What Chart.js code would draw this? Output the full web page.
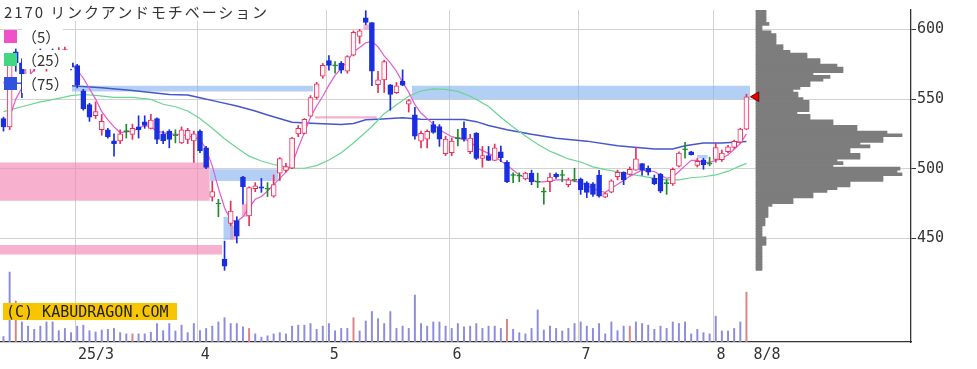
<!DOCTYPE html>
<html>
<head>
<meta charset="utf-8">
<script src="https://cdn.jsdelivr.net/npm/chart.js@4.4.1/dist/chart.umd.min.js"></script>
<style>
body { margin: 0; background: #fff; }
#wrap { position: relative; width: 977px; height: 369px; overflow: hidden; }
#title { position: absolute; left: 0; top: 0; width: 267px; height: 21px; background: #fff;
  font: 15px "Noto Sans CJK JP"; letter-spacing: 1.9px; color: #333; line-height: 24px; padding-left: 4px; box-sizing: border-box; white-space: nowrap; }
.sq { position: absolute; left: 4px; width: 13px; height: 13px; }
.lg { position: absolute; left: 22px; height: 19px; padding: 0 3px 0 0; background: #fff;
  font: 15px "Noto Sans CJK JP"; color: #333; line-height: 19px; }
#copy { position: absolute; left: 3px; top: 303px; width: 174px; height: 17px; background: #f7c600;
  font: 15px "DejaVu Sans Mono"; color: #222; line-height: 18px; padding-left: 3px; box-sizing: border-box; white-space: nowrap; }
</style>
</head>
<body>
<div id="wrap">
  <canvas id="chart" width="977" height="369"></canvas>
  <div id="title">2170 リンクアンドモチベーション</div>
  <div class="sq" style="top:30px;background:#f050c8"></div><div class="lg" style="top:27px">（5）</div>
  <div class="sq" style="top:53px;background:#40d880"></div><div class="lg" style="top:50px">（25）</div>
  <div class="sq" style="top:77px;background:#2f52e0"></div><div class="lg" style="top:74px">（75）</div>
  <div id="copy">(C) KABUDRAGON.COM</div>
</div>
<script>
// 日足 2025/2/12 - 8/8 (index 0 = 2/12)
const opens  = [536,530,584,576,567,574,582,574,583,577,579,576,574,556,546,538,528,528,520,520,
  527,524.7,530,533.7,529,536,525,527,524,518.5,521,520,527,515,479.5,475,435,460.6,462.7,494,
  466,485.6,487,485.6,480.2,496.8,498.8,500.3,525,525.4,537.7,551.2,566.5,577.7,574.2,575.6,570,581.5,595,608.4,
  604.9,560.3,563.8,560.3,554.7,563,546.3,538.7,519.8,521.2,531.7,530.3,510.8,511.5,522,529,512.2,525.4,507.3,509.4,
  506,512.2,504.5,495.5,495,492.6,496.8,490.6,483.5,490.6,496,495.5,488.5,492,492.6,489.9,489.2,495.4,479.6,483.1,
  494.2,497.3,495.9,498.9,503.6,500.3,493.2,495.9,489.6,489,501.9,514,512.2,502.4,506.4,503.6,506.6,506.4,512.2,515.2,
  519.1,528.4];
const highs  = [537,582,586,579,582,584,586,585,586,587,587.3,577.4,575,557,547,548,539,529,525,528,
  532,532,538,538,539,536.5,527,528,528,530,529,527,528,516,491,478,448,476.7,465.5,494.5,
  487,490,493,490,495.5,508,503.8,522.5,531,536,552.5,562,575.6,581.2,577,577,581.2,599,600,613.5,
  605,570,578,560.5,562,571,549.8,544,527,528,534,531.7,523.3,522,528.2,533.7,524.7,526,516,516,
  517.7,516.3,505.9,497,497,497.5,499,496.8,486.4,496.8,497,499,493.3,500.3,493.3,490.7,490,498.9,482.9,492,
  499,497.8,501.2,515.2,503.6,502,495.4,496.6,492,500.5,512.2,519,512.5,507.3,507.5,508.2,518.2,513.3,516.8,520.5,
  529.1,553.5];
const lows   = [527,528,570,551,563,570,572,570,574,575,579,571,558,542,534,536,524,522,509,518,
  522,521,522,529,528.5,518,518,515,518.5,518,518,504.5,511.5,500,476.7,465.5,427,459,446.6,474.5,
  459,483.5,483,480,479.5,491.5,497.5,500,523,525,537.7,550,565,570.7,568.6,568.6,568.6,581,590,603.5,
  559.6,554.7,554.7,542,554,559.6,540.7,521.2,515,515,525.4,516,509.4,509.4,516.3,519.8,510.8,506.6,501,505.9,
  505.9,505,490,490,490.6,491.9,488.5,486.4,474.5,483.5,493,490.6,486.9,490.6,481.5,479.2,480,479.6,479.2,482.7,
  492,488.5,495.4,498.9,495.4,495.4,488.5,482.7,481.5,488,501.2,507.5,509.8,501.2,499.6,502,504.7,505.2,511.3,514.5,
  518.2,528];
const closes = [530,575,576,568,578,581,575,582,577,584,585.5,573,560,543,537,541,534,523,518,525,
  527,529,528,531,535,521,520,521,524,528,527.5,525,513,501,483.5,475,430,469.6,451.5,487,
  486.5,487.7,486,485.6,488.5,507.2,501.5,522,529,535.5,551,561,574.2,574.2,574.2,570.7,580.5,598,599,605,
  570,563.8,577,553.3,559.6,560,549,523.3,525.4,526.8,526,521.2,521.2,519.8,522,521.2,522,507.3,509.4,506,
  515,508,490.6,495.5,495,496.8,490.6,490.6,483.5,494,494,495.5,492,492,485,483,481.5,480.3,482.2,491.2,
  497.3,492,499.6,507,498.9,497.5,489,483.8,489.6,499.6,511.3,514,510,505.2,502.9,503.6,515.2,511.3,515.7,519.6,
  528.4,551.7];
// 出来高 (千株)
const volumes = [113,1440,847,413,327,260,327,413,413,233,280,193,327,347,233,207,247,260,280,193,
  167,167,167,167,200,380,233,380,227,347,193,380,233,280,327,413,500,380,380,313,
  280,167,100,127,167,193,167,327,347,347,380,260,327,380,233,280,280,500,227,433,
  627,480,380,627,280,327,280,967,380,327,413,413,327,280,380,313,327,380,280,327,
  327,280,467,260,193,167,280,660,247,327,280,227,280,380,413,327,280,380,167,413,
  233,327,327,413,380,347,260,327,280,413,380,413,167,260,193,167,533,227,227,280,
  413,1027];
const redVolumeDays = [2,21,40,57,82,102,121];
// 移動平均 [日, 値]
const ma5 = [[1,537],[2,550],[4,566],[6,576],[8,579],[10,580],[12,571],[13,565],[15,550],[16,541],[17,535],[18,530],
  [19,526],[21,527],[22,529],[23,531],[24,530],[25,527],[27,525],[29,524.5],[31,522.5],[32,521],[33,514],[34,502],
  [35,486],[36,472],[37,463],[38,462],[39,465.5],[40,472],[41,478],[42,480],[43,484],[45,493],[46,497.5],[47,503],
  [48,515],[49,526],[50,537],[51,545],[52,552],[53,560],[54,567],[55,572],[56,577],[57,584],[58,587],[59,590.5],
  [60,591.5],[61,587.5],[62,581],[63,576],[64,570],[65,562],[66,555],[67,546],[68,540],[69,536],[70,532],[71,528],
  [73,523],[74,522],[76,520],[77,515],[79,511],[80,508.5],[82,502.5],[84,495.5],[85,493.5],[87,490.5],[88,490.5],
  [90,492],[92,492],[94,490],[96,486],[97,484],[98,483],[99,486],[101,491.5],[102,494.5],[104,499],[106,498],
  [107,495.5],[108,493],[109,494],[110,498],[111,502],[112,506],[113,506],[114,504.5],[115,504.5],[117,507.3],
  [118,510],[119,514],[120,518],[121,525]];
const ma25 = [[0,541],[3,544.5],[6,548],[9,550.5],[11,552.5],[13,553.3],[15,552.6],[18,551.2],[21,551.2],[24,549.8],
  [26,546.3],[28,544.5],[30,541.5],[32,536],[34,529],[36,521.5],[38,515],[40,509],[42,505.5],[44,503],[47,500.3],
  [49,500.3],[51,502.2],[53,506.3],[55,511.5],[57,518.5],[60,530.3],[62,539.5],[64,546],[66,552],[68,555.8],
  [70,557.3],[72,557],[74,555.5],[76,552],[77,549.8],[79,544.7],[81,537],[83,530],[85,523.5],[87,517.5],[89,512.5],
  [90,510.8],[92,507],[94,504.8],[96,501.3],[98,499.3],[100,497.8],[102,496],[104,494.6],[106,493],[108,491.9],
  [110,492],[112,493.5],[114,494.2],[116,495.5],[118,498.2],[120,502],[121,503.8]];
const ma75 = [[0,562],[11,559.6],[16,558.2],[21,556.1],[27,553.3],[30,553],[32,551],[35,548],[38,545],[41,541.5],
  [43,538.6],[47,533.3],[51,532.4],[55,531.7],[57,532.5],[59,535.2],[61,535.6],[65,536.6],[68,535.5],[75,535.3],
  [77,533.8],[79,531],[82,528],[86,524.7],[90,521.9],[95,519.8],[100,516.5],[106,514.2],[109,514.2],[111,516.5],
  [114,518.4],[117,518.4],[121,519.6]];
// 窓 [開始日, 終了日, 下限, 上限, 種類]
const gaps = [[-0.6,33.6,477,504.5,'up'],[-0.6,35.6,438.3,445.2,'up'],[33.6,44.7,491.2,499.6,'down'],
  [35.8,37.4,449,465.5,'down'],[36.9,37.9,449,459,'up'],[38.8,39.8,465.5,474.5,'up'],[50.7,60.8,536,537.7,'up'],
  [58.6,59.7,600,603.5,'up'],[10.7,50.4,555.4,559.6,'down'],[66.5,121.6,549.8,559.6,'down'],[112.9,114.7,507.3,509.8,'down']];
// 価格帯別出来高 428円から2円刻み
const profileLow = 428, profileStep = 2;
const profileVol = [600,600,600,600,600,600,600,600,600,1000,1000,1000,600,600,600,600,900,900,900,1200,
  1200,1200,1200,1600,3700,3700,5700,5700,7100,8100,9400,9400,12700,12700,14600,14100,14400,7700,8700,8100,
  10400,10400,9400,9400,11400,10400,12700,12700,14600,13100,10100,10100,7700,7700,5400,5400,4100,5300,5300,5300,
  5300,4700,4200,4200,3700,4400,5400,5400,6700,7400,5700,8700,8700,8100,6400,6400,5100,5100,3400,2700,
  2700,2000,2000,2000,2000,1500,600,600,1300,1000,1000,1000,1000,1000];
const tickDays = [12,32,53,73,94,116,122];
const tickLabels = ['25/3','4','5','6','7','8','8/8'];
const priceTicks = [450,500,550,600];

const UP = '#e8305c', DOWN = '#1a2ee0', EVEN = '#1f8a2a';
const days = opens.map((_, i) => i);
const kindOf = i => closes[i] > opens[i] ? UP : (closes[i] < opens[i] ? DOWN : EVEN);
const lineColors = days.map(kindOf);
const fillColors = days.map(i => kindOf(i) === UP ? '#fff4f7' : kindOf(i));

const bodyData = days.map(i => {
  const lo = Math.min(opens[i], closes[i]), hi = Math.max(opens[i], closes[i]);
  return { x: i, y: hi - lo < 0.7 ? [lo - 0.35, hi + 0.35] : [lo, hi] };
});
const wickData = days.map(i => ({ x: i, y: [lows[i], highs[i]] }));

const maLine = (pts, color, w, order) => ({
  type: 'line', data: pts.map(p => ({ x: p[0], y: p[1] })), borderColor: color, borderWidth: w,
  pointRadius: 0, tension: 0, fill: false, order
});

const gapSets = gaps.map(g => {
  const col = g[4] === 'up' ? 'rgba(242,128,176,0.62)' : 'rgba(130,175,240,0.6)';
  return {
    type: 'line', data: [{ x: g[0], y: g[3] }, { x: g[1], y: g[3] }],
    borderWidth: 0, borderColor: 'rgba(0,0,0,0)', pointRadius: 0,
    fill: { target: { value: g[2] }, above: col, below: col }, order: 20
  };
});

const datasets = [
  { type: 'line', data: [{ x: 0, y: closes[closes.length - 1] }], xAxisID: 'xp', showLine: false,
    pointStyle: 'triangle', pointRotation: -90, pointRadius: 5.5, pointBackgroundColor: '#e80000',
    pointBorderColor: '#700', pointBorderWidth: 1, order: 0 },
  { type: 'bar', data: bodyData, backgroundColor: fillColors, borderColor: lineColors, borderWidth: 1,
    borderSkipped: false, barThickness: 5, grouped: false, order: 1 },
  { type: 'bar', data: wickData, backgroundColor: lineColors, borderWidth: 0, barThickness: 1, grouped: false, order: 2 },
  maLine(ma5, '#e25ad2', 1.2, 8),
  maLine(ma25, '#68d690', 1.2, 9),
  maLine(ma75, '#4656cc', 1.5, 10),
  { type: 'bar', data: volumes.map((v, i) => ({ x: i, y: v })), yAxisID: 'yv',
    backgroundColor: days.map(i => redVolumeDays.includes(i) ? '#d98484' : '#8c8cdc'),
    borderWidth: 0, barThickness: 1.3, grouped: false, order: 12 },
  { type: 'bar', indexAxis: 'y', xAxisID: 'xp', yAxisID: 'y',
    data: profileVol.map((v, k) => ({ y: profileLow + k * profileStep, x: v })),
    backgroundColor: '#7d7d7d', borderWidth: 0, barThickness: 3, grouped: false, order: 15 },
  ...gapSets
];

const tickFont = { family: 'DejaVu Sans Mono', size: 15 };

new Chart(document.getElementById('chart'), {
  type: 'bar',
  data: { datasets },
  options: {
    responsive: false, animation: false, events: [],
    layout: { padding: 0, autoPadding: false },
    plugins: { legend: { display: false }, tooltip: { enabled: false } },
    scales: {
      x: {
        type: 'linear', position: 'bottom', min: -0.57, max: 147.8, offset: false,
        afterBuildTicks: s => { s.ticks = tickDays.map(d => ({ value: d - 0.35 })); },
        afterFit: s => { s.height = 27; },
        ticks: { callback: (v, i) => tickLabels[i], align: 'start', labelOffset: 3, padding: 4,
          autoSkip: false, maxRotation: 0, color: '#333', font: tickFont },
        grid: { offset: false, drawTicks: false, lineWidth: 1,
          color: c => c.index === tickDays.length - 1 ? 'rgba(0,0,0,0)' : '#d2d2d2' },
        border: { color: '#333', width: 1.3 }
      },
      y: {
        type: 'linear', position: 'right', min: 375.5, max: 614, offset: false,
        afterBuildTicks: s => { s.ticks = priceTicks.map(v => ({ value: v })); },
        afterFit: s => { s.width = 66; },
        ticks: { color: '#333', font: tickFont, padding: 1 },
        grid: { offset: false, color: '#d2d2d2', lineWidth: 1, tickLength: 5, tickColor: '#333' },
        border: { color: '#333', width: 1.3 }
      },
      yv: { type: 'linear', display: false, min: 0, max: 6840 },
      xp: { type: 'linear', axis: 'x', display: false, min: -75600, max: 15500, offset: false }
    }
  }
});
</script>
</body>
</html>
